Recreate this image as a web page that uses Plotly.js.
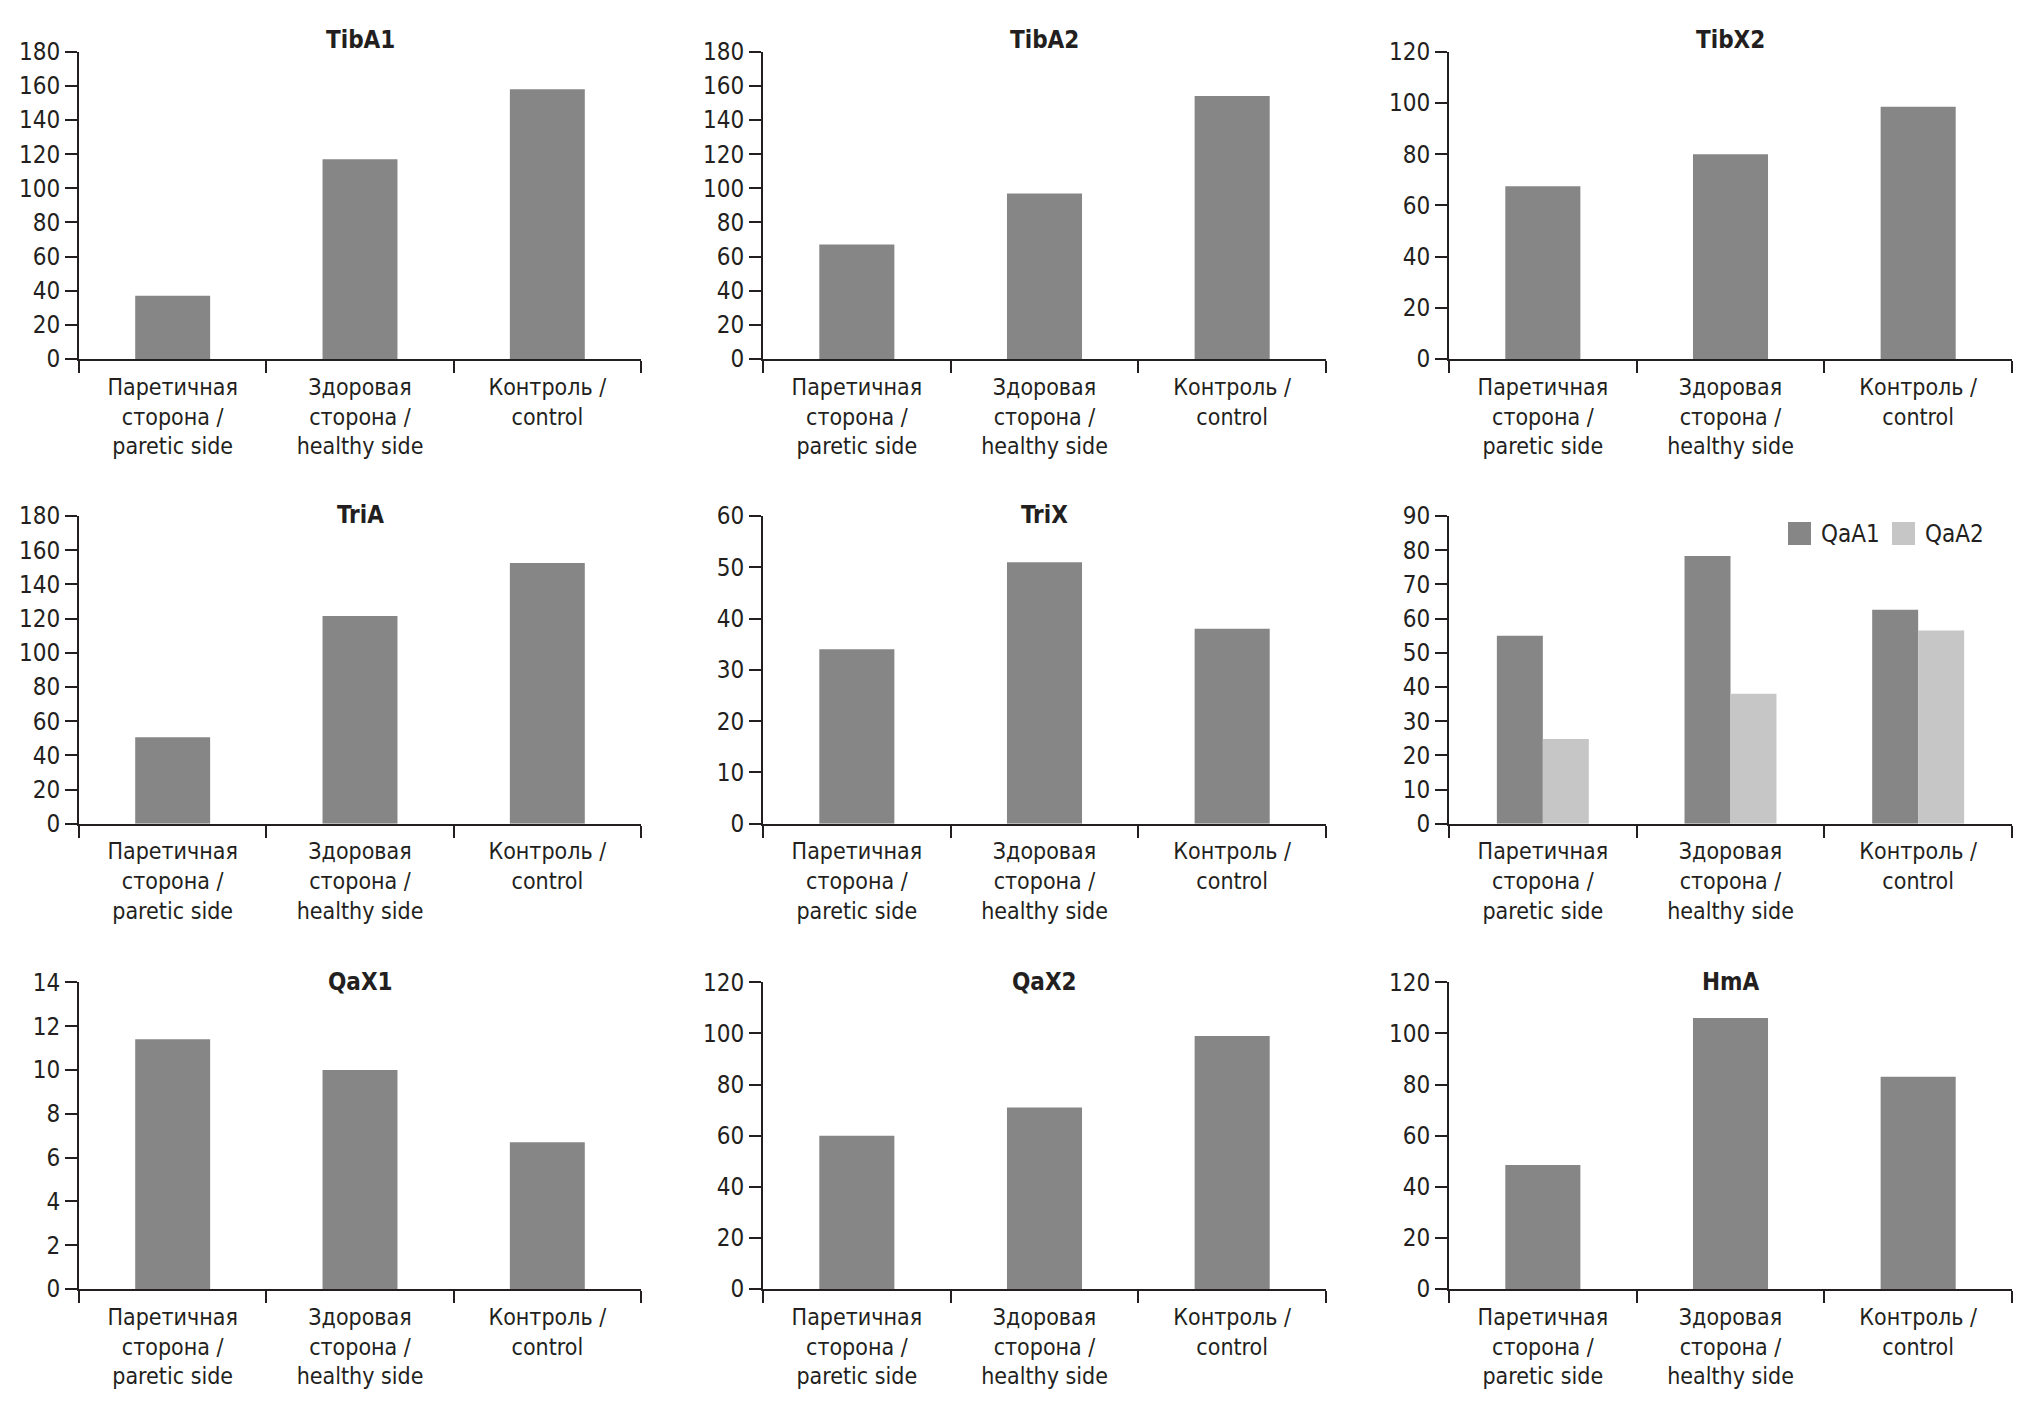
<!DOCTYPE html>
<html>
<head>
<meta charset="utf-8">
<script src="https://cdn.plot.ly/plotly-3.0.1.min.js"></script>
<style>
html,body{margin:0;padding:0;background:#fff;}
#chart{width:2037px;height:1415px;}
</style>
</head>
<body>
<div id="chart"></div>
<script>
// ---- data ----
var categories = ["Паретичная<br>сторона /<br>paretic side", "Здоровая<br>сторона /<br>healthy side", "Контроль /<br>control"];
var panelTitles = ["TibA1", "TibA2", "TibX2", "TriA", "TriX", "", "QaX1", "QaX2", "HmA"];
var tibA1 = [37, 117, 158];
var tibA2 = [67, 97, 154];
var tibX2 = [67.5, 80, 98.5];
var triA  = [50.5, 121.5, 152.5];
var triX  = [34, 51, 38];
var qaA1  = [55, 78.3, 62.6];
var qaA2  = [24.8, 38, 56.5];
var qaX1  = [11.4, 10, 6.7];
var qaX2  = [60, 71, 99];
var hmA   = [48.5, 106, 83];
var yMax   = [180, 180, 120, 180, 60, 90, 14, 120, 120];
var yStep  = [20, 20, 20, 20, 10, 10, 2, 20, 20];
var legendNames = ["QaA1", "QaA2"];

// ---- style ----
var FONT = '"Liberation Sans Narrow", "Arial Narrow", "DejaVu Sans Condensed", "Roboto Condensed", sans-serif';
var TXT = '#231f20';
var DARK = '#878686';
var LIGHT = '#c6c6c6';
var W = 2037, H = 1415;
// pixel geometry of panels
var colX = [[79, 641], [763, 1326], [1449, 2012]];
var rowY = [[51.7, 359], [516, 823.7], [982.3, 1289]]; // [top, zero]
var titleY = [40, 515, 982];

var singles = [tibA1, tibA2, tibX2, triA, triX, null, qaX1, qaX2, hmA];

var data = [];
var layout = {
  width: W, height: H,
  margin: {l: 0, r: 0, t: 0, b: 0},
  paper_bgcolor: '#fff', plot_bgcolor: 'rgba(0,0,0,0)',
  showlegend: false,
  barmode: 'group',
  bargap: 0.51,
  bargroupgap: 0,
  font: {family: FONT, size: 24, color: TXT},
  annotations: [],
  shapes: []
};

for (var i = 0; i < 9; i++) {
  var r = Math.floor(i / 3), c = i % 3;
  var n = i + 1;
  var xa = 'x' + (n === 1 ? '' : n), ya = 'y' + (n === 1 ? '' : n);
  var xk = 'xaxis' + (n === 1 ? '' : n), yk = 'yaxis' + (n === 1 ? '' : n);
  layout[xk] = {
    domain: [colX[c][0] / W, colX[c][1] / W],
    anchor: ya,
    type: 'category',
    showline: true, linecolor: TXT, linewidth: 2,
    ticks: 'outside', ticklen: 12, tickwidth: 2, tickcolor: TXT,
    tickson: 'boundaries',
    ticklabelstandoff: 6,
    showgrid: false, zeroline: false,
    tickfont: {family: FONT, size: 23, color: TXT},
    fixedrange: true
  };
  layout[yk] = {
    domain: [1 - rowY[r][1] / H, 1 - rowY[r][0] / H],
    anchor: xa,
    range: [0, yMax[i]],
    tick0: 0, dtick: yStep[i],
    showline: true, linecolor: TXT, linewidth: 2,
    ticks: 'outside', ticklen: 12, tickwidth: 2, tickcolor: TXT,
    showgrid: false, zeroline: false,
    tickfont: {family: FONT, size: 24, color: TXT},
    fixedrange: true
  };
  if (singles[i]) {
    data.push({
      type: 'bar', x: categories, y: singles[i], xaxis: xa, yaxis: ya,
      width: 0.4,
      marker: {color: DARK, line: {width: 0}},
      hoverinfo: 'y'
    });
  } else {
    data.push({
      type: 'bar', name: legendNames[0], x: categories, y: qaA1, xaxis: xa, yaxis: ya,
      marker: {color: DARK, line: {width: 0}}, hoverinfo: 'y'
    });
    data.push({
      type: 'bar', name: legendNames[1], x: categories, y: qaA2, xaxis: xa, yaxis: ya,
      marker: {color: LIGHT, line: {width: 0}}, hoverinfo: 'y'
    });
  }
  if (panelTitles[i]) {
    layout.annotations.push({
      xref: 'paper', yref: 'paper',
      x: (colX[c][0] + colX[c][1]) / 2 / W, y: 1 - titleY[r] / H,
      xanchor: 'center', yanchor: 'middle',
      text: '<b>' + panelTitles[i] + '</b>',
      showarrow: false,
      font: {family: FONT, size: 24, color: TXT}
    });
  }
}

// legend for the QaA panel (swatches + labels)
var legX = [1788, 1892];
var legColors = [DARK, LIGHT];
for (var k = 0; k < 2; k++) {
  layout.shapes.push({
    type: 'rect', xref: 'paper', yref: 'paper',
    x0: legX[k] / W, x1: (legX[k] + 23) / W,
    y0: 1 - 545 / H, y1: 1 - 522 / H,
    fillcolor: legColors[k], line: {width: 0}
  });
  layout.annotations.push({
    xref: 'paper', yref: 'paper',
    x: (legX[k] + 31) / W, y: 1 - 533.5 / H,
    xanchor: 'left', yanchor: 'middle',
    text: legendNames[k], showarrow: false,
    font: {family: FONT, size: 24, color: TXT}
  });
}

Plotly.newPlot('chart', data, layout, {displayModeBar: false, staticPlot: true});
</script>
</body>
</html>
